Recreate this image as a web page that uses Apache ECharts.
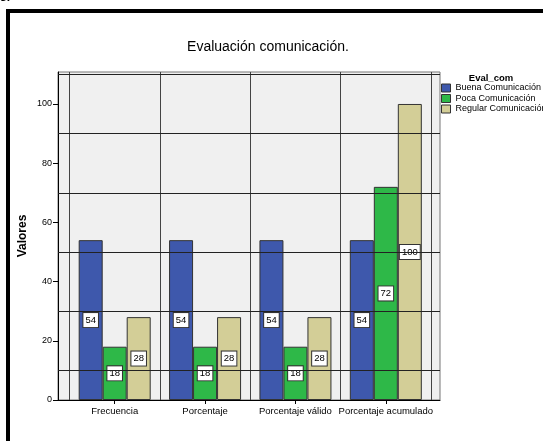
<!DOCTYPE html>
<html>
<head>
<meta charset="utf-8">
<script src="https://cdn.jsdelivr.net/npm/echarts@6/dist/echarts.min.js"></script>
<style>
  html, body { margin: 0; padding: 0; background: #fff; }
  #chart { width: 543px; height: 441px; }
</style>
</head>
<body>
<div id="chart"></div>
<script>
// data
const categories = ['Frecuencia', 'Porcentaje', 'Porcentaje válido', 'Porcentaje acumulado'];
const seriesNames = ['Buena Comunicación', 'Poca Comunicación', 'Regular Comunicación'];
const buena = [54, 54, 54, 54];
const poca = [18, 18, 18, 72];
const regular = [28, 28, 28, 100];
const yTicks = [0, 20, 40, 60, 80, 100];
const yGridLines = [10, 30, 50, 70, 90, 110];
const yMax = 110.8;

const colors = ['#3e58ac', '#2eb848', '#d3ce97'];
const font = '"Liberation Sans", Arial, sans-serif';

const chart = echarts.init(document.getElementById('chart'));

const barLabel = {
  show: true,
  position: 'inside',
  color: '#000',
  fontSize: 9.5,
  fontFamily: font,
  backgroundColor: '#fff',
  borderColor: '#333',
  borderWidth: 1,
  padding: [2, 2, 2, 2]
};

function barSeries(name, data, i) {
  return {
    name: name,
    type: 'bar',
    xAxisIndex: 1,
    yAxisIndex: 1,
    data: data,
    barWidth: 24,
    barGap: '0%',
    z: 3,
    itemStyle: { color: colors[i], borderColor: '#333', borderWidth: 1 },
    label: barLabel
  };
}

chart.setOption({
  backgroundColor: '#fff',
  animation: false,
  color: colors,
  title: [
    {
      text: 'Evaluación comunicación.',
      left: 268,
      top: 40,
      padding: 0,
      textAlign: 'center',
      textStyle: { fontFamily: font, fontSize: 14, fontWeight: 'normal', color: '#000' }
    },
    {
      text: 'Eval_com',
      left: 491,
      top: 73,
      padding: 0,
      textAlign: 'center',
      textStyle: { fontFamily: font, fontSize: 9.5, fontWeight: 'bold', color: '#000' }
    }
  ],
  legend: {
    orient: 'vertical',
    left: 441,
    top: 83,
    itemWidth: 9,
    itemHeight: 8,
    itemGap: 0.5,
    padding: 0,
    icon: 'rect',
    data: seriesNames,
    itemStyle: { borderColor: '#333', borderWidth: 1 },
    textStyle: { fontFamily: font, fontSize: 9, color: '#000', lineHeight: 10 }
  },
  grid: [
    { left: 58, right: 103, top: 72, bottom: 41, show: true, backgroundColor: '#f0f0f0', borderColor: '#777', borderWidth: 1 },
    { left: 69.5, right: 112, top: 72, bottom: 41, show: false }
  ],
  xAxis: [
    {
      type: 'value', gridIndex: 0, min: 0, max: 1,
      axisLine: { show: true, lineStyle: { color: '#000', width: 1 } },
      axisTick: { show: false }, axisLabel: { show: false }, splitLine: { show: false }
    },
    {
      type: 'category', gridIndex: 1, data: categories,
      axisLine: { show: false },
      axisTick: { show: true, interval: 0, alignWithLabel: true, length: 4, lineStyle: { color: '#000' } },
      axisLabel: { interval: 0, fontFamily: font, fontSize: 9.5, color: '#000', margin: 6 },
      splitLine: { show: true, interval: 0, lineStyle: { color: '#444', width: 1 } }
    }
  ],
  yAxis: [
    {
      type: 'value', gridIndex: 0, min: 0, max: yMax,
      axisLine: { show: true, lineStyle: { color: '#000', width: 1 } },
      axisTick: { show: true, length: 5, customValues: yTicks, lineStyle: { color: '#000' } },
      axisLabel: { fontFamily: font, fontSize: 9, color: '#000', margin: 6, customValues: yTicks },
      splitLine: { show: false }
    },
    {
      type: 'value', gridIndex: 1, min: 0, max: yMax, show: false,
      splitLine: { show: false }
    }
  ],
  graphic: [
    {
      type: 'rect',
      shape: { x: 8, y: 11, width: 580, height: 480 },
      style: { fill: 'none', stroke: '#000', lineWidth: 4 },
      silent: true
    },
    {
      type: 'text', left: 0, top: -8,
      style: { text: '3.', fontFamily: font, fontSize: 12, fontWeight: 'bold', fill: '#000' }
    },
    {
      // y axis title
      type: 'text', x: 23, y: 236, rotation: Math.PI / 2,
      style: {
        text: 'Valores', fontFamily: font, fontSize: 12, fontWeight: 'bold', fill: '#000',
        align: 'center', verticalAlign: 'middle'
      }
    }
  ],
  series: [
    {
      type: 'line',
      xAxisIndex: 0,
      yAxisIndex: 0,
      data: [],
      z: 1,
      silent: true,
      markLine: {
        symbol: 'none',
        silent: true,
        label: { show: false },
        lineStyle: { color: '#222', type: 'solid', width: 1 },
        data: yGridLines.map(v => ({ yAxis: v }))
      }
    },
    barSeries(seriesNames[0], buena, 0),
    barSeries(seriesNames[1], poca, 1),
    barSeries(seriesNames[2], regular, 2)
  ]
});
</script>
</body>
</html>
